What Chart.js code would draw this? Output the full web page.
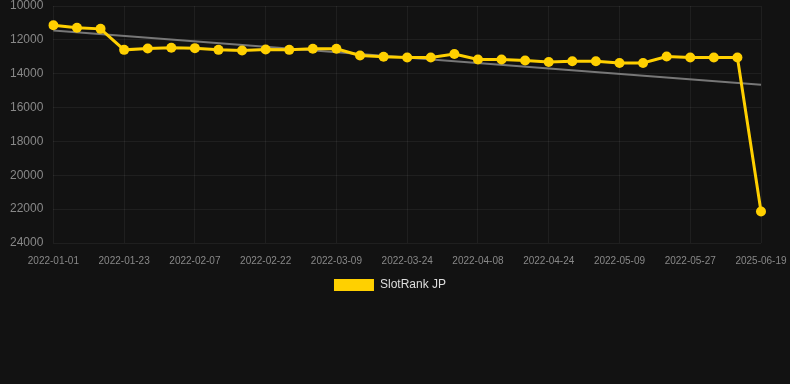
<!DOCTYPE html>
<html>
<head>
<meta charset="utf-8">
<script src="https://cdn.jsdelivr.net/npm/chart.js@4/dist/chart.umd.min.js"></script>
<style>
  html, body { margin: 0; padding: 0; background: #121212; }
  #wrap { position: relative; width: 790px; height: 301px; }
</style>
</head>
<body>
<div id="wrap"><canvas id="chart"></canvas></div>
<script>
// Dates (axis categories)
const dates = [
    '2022-01-01', '2022-01-08', '2022-01-15', '2022-01-23', '2022-01-28', '2022-02-02',
    '2022-02-07', '2022-02-12', '2022-02-17', '2022-02-22', '2022-02-27', '2022-03-04',
    '2022-03-09', '2022-03-14', '2022-03-19', '2022-03-24', '2022-03-29', '2022-04-03',
    '2022-04-08', '2022-04-13', '2022-04-19', '2022-04-24', '2022-04-29', '2022-05-04',
    '2022-05-09', '2022-05-15', '2022-05-21', '2022-05-27', '2022-06-01', '2022-06-06',
    '2025-06-19'
];

// Rang SlotRank JP
const rankJP = [
    11140, 11290, 11350, 12590, 12510, 12470,
    12490, 12590, 12630, 12570, 12590, 12530,
    12530, 12920, 13000, 13040, 13040, 12840,
    13160, 13160, 13220, 13310, 13260, 13260,
    13370, 13370, 12980, 13040, 13040, 13040,
    22140
];

// Ligne de tendance : début et fin seulement
const trendStart = 11450;
const trendEnd = 14650;

const trend = dates.map((d, i) => i === 0 ? trendStart : (i === dates.length - 1 ? trendEnd : null));

const gold = '#FFD000';
const tickColor = '#888888';
const gridColor = 'rgba(255,255,255,0.06)';
const fontFamily = 'Liberation Sans, Arial, sans-serif';

new Chart(document.getElementById('chart'), {
    type: 'line',
    data: {
        labels: dates,
        datasets: [{
            label: 'SlotRank JP',
            data: rankJP,
            borderColor: gold,
            backgroundColor: gold,
            borderWidth: 3,
            pointRadius: 5,
            pointBackgroundColor: gold,
            pointBorderColor: gold,
            pointBorderWidth: 0,
            tension: 0
        }, {
            label: 'trend',
            data: trend,
            spanGaps: true,
            borderColor: '#777777',
            borderWidth: 2,
            pointRadius: 0,
            tension: 0
        }]
    },
    options: {
        responsive: true,
        maintainAspectRatio: false,
        animation: false,
        layout: { padding: { right: 10 } },
        scales: {
            x: {
                offset: false,
                grid: { color: gridColor, drawTicks: false },
                border: { display: false },
                ticks: {
                    color: tickColor,
                    font: { family: fontFamily, size: 10 },
                    maxRotation: 0,
                    autoSkip: true,
                    padding: 12
                },
                // marges latérales fixes
                afterFit: (scale) => {
                    scale.paddingLeft = 0;
                    scale.paddingRight = 29;
                }
            },
            y: {
                reverse: true,
                min: 10000,
                max: 24000,
                grid: { color: gridColor, drawTicks: false },
                border: { display: false },
                ticks: {
                    stepSize: 2000,
                    color: tickColor,
                    font: { family: fontFamily, size: 12 },
                    padding: 10,
                    callback: (value) => String(value)
                },
                afterFit: (scale) => {
                    scale.paddingTop = 6;
                    scale.paddingBottom = 0;
                }
            }
        },
        plugins: {
            legend: {
                position: 'bottom',
                labels: {
                    color: '#dddddd',
                    font: { family: fontFamily, size: 12 },
                    boxWidth: 40,
                    boxHeight: 12,
                    padding: 0,
                    filter: (item) => item.text !== 'trend',
                    generateLabels: (chart) => {
                        const items = Chart.defaults.plugins.legend.labels.generateLabels(chart);
                        items.forEach((item) => { item.lineWidth = 0; });
                        return items;
                    }
                }
            },
            tooltip: { enabled: false }
        }
    }
});
</script>
</body>
</html>
